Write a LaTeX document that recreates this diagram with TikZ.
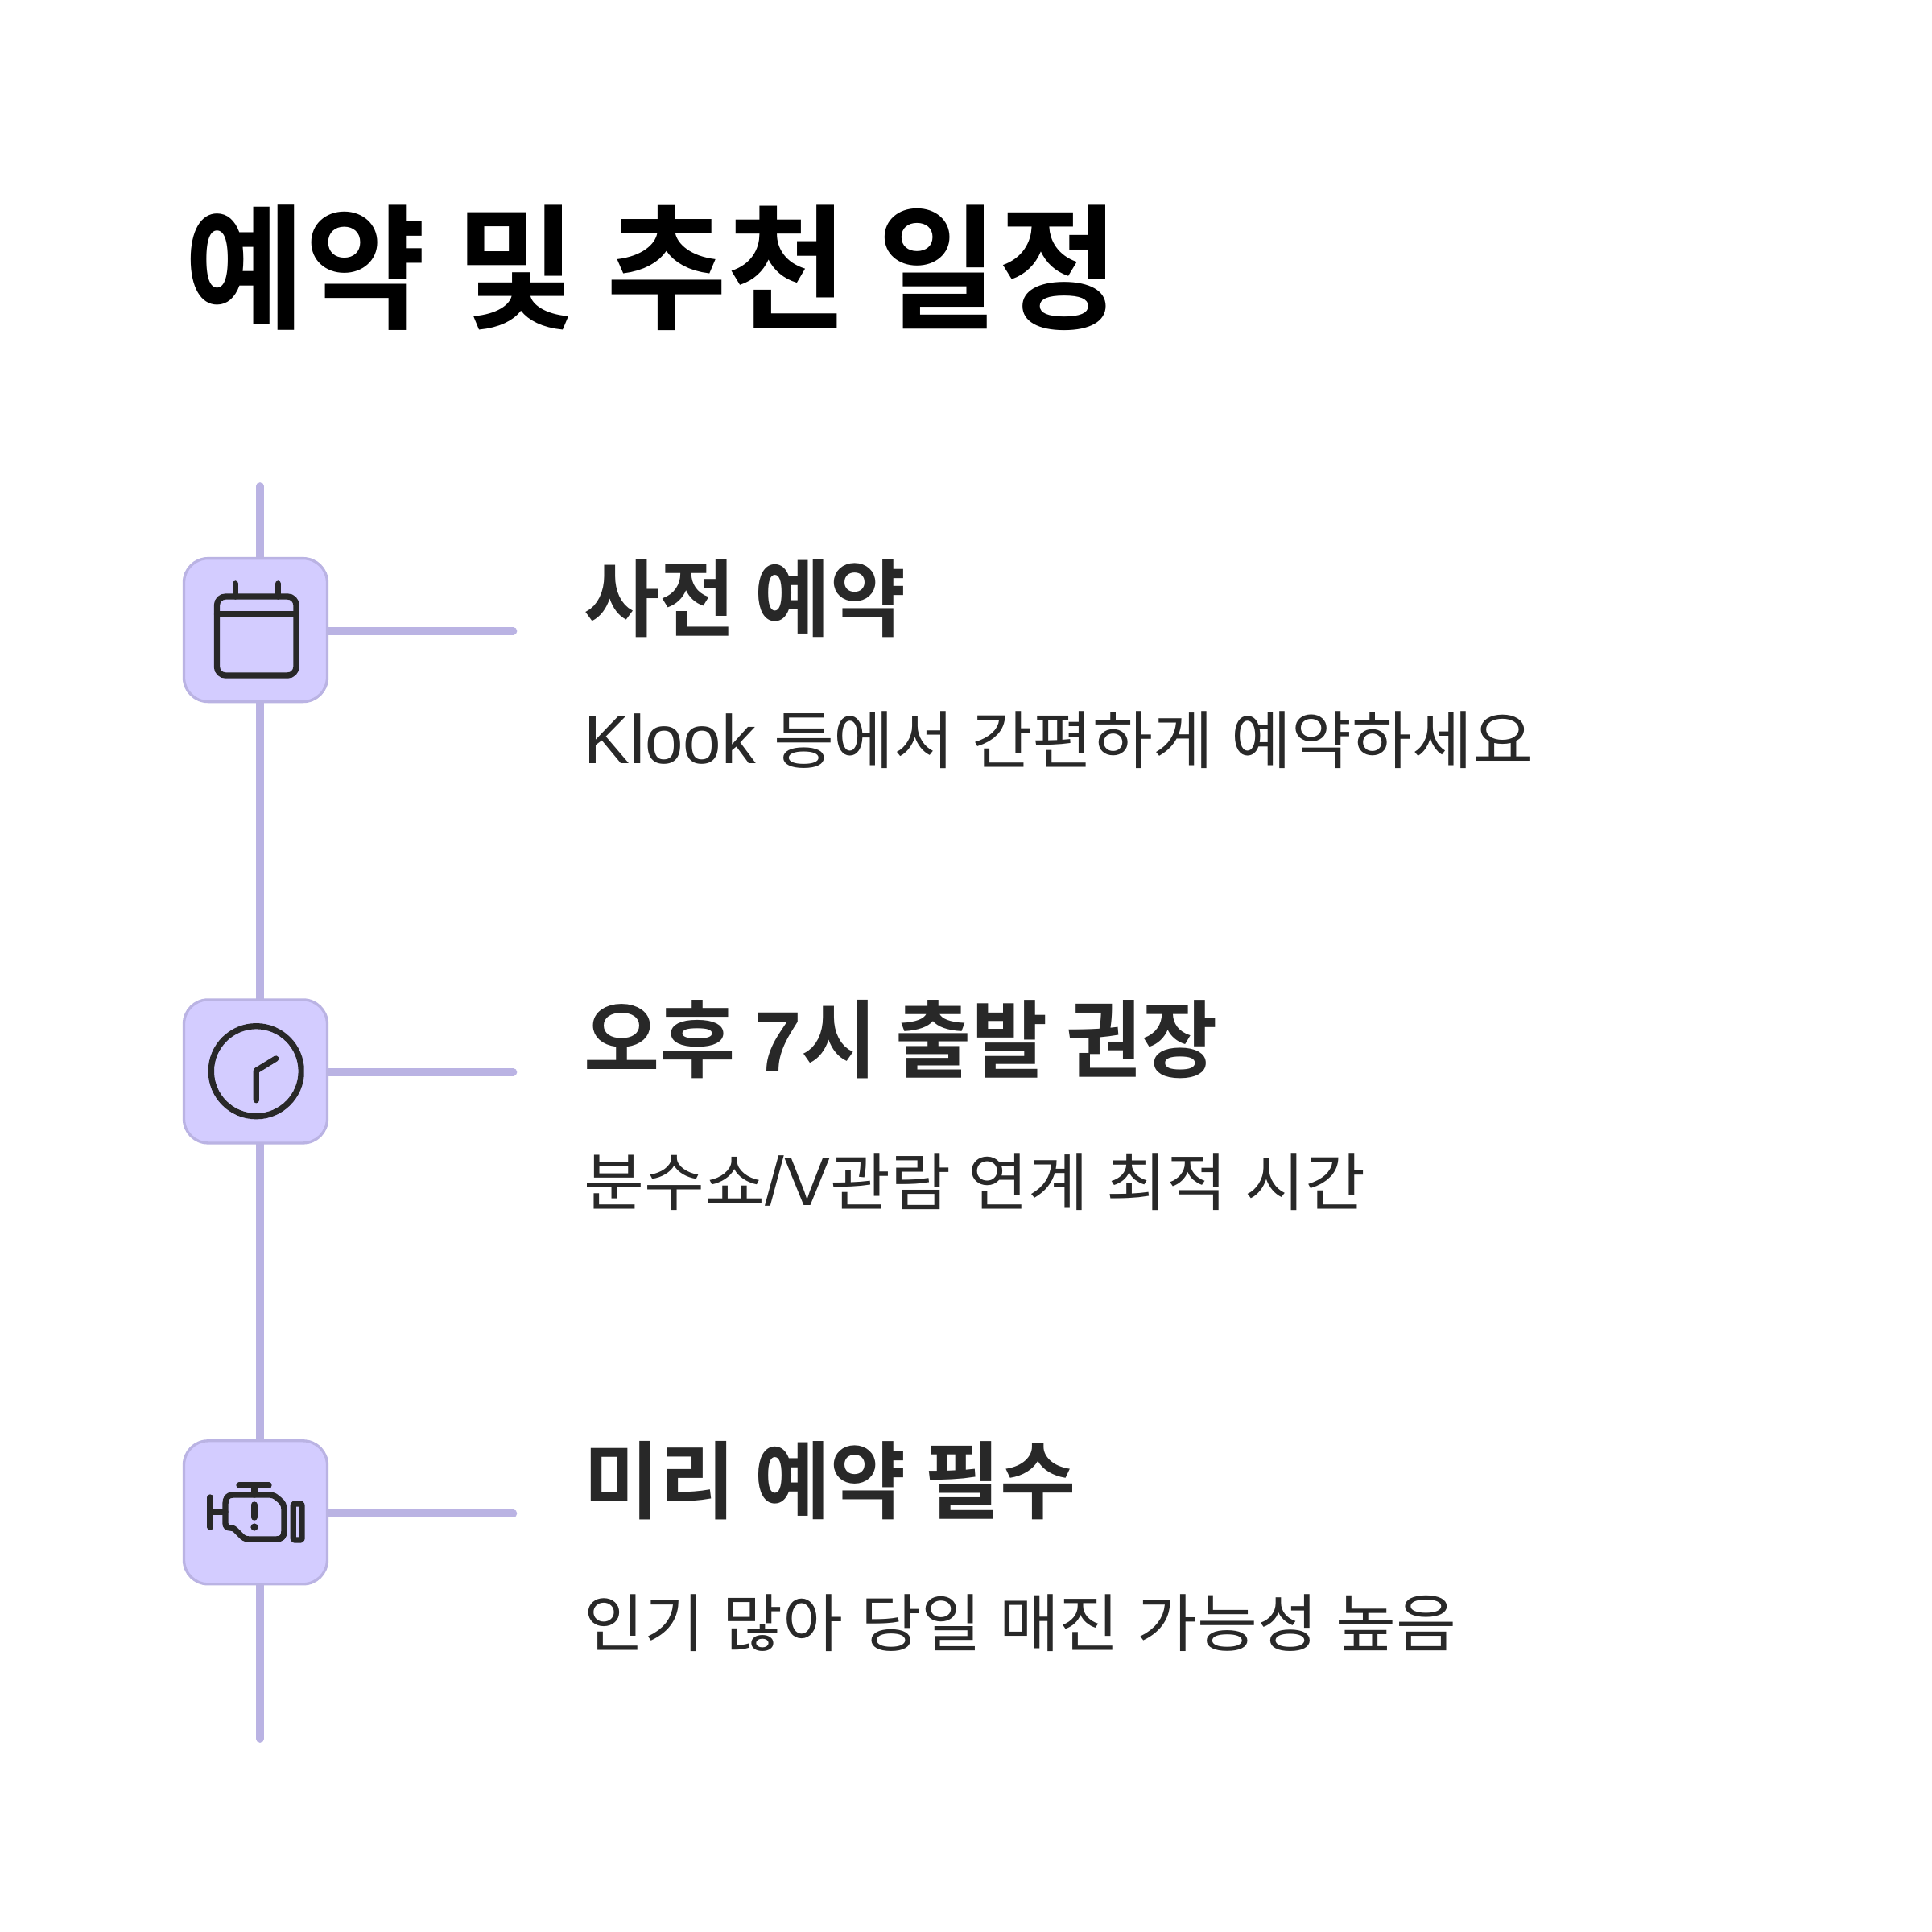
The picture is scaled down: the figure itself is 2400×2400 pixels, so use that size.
\documentclass[tikz,border=0pt]{standalone}
\usepackage{fontspec}
\usetikzlibrary{backgrounds}
\setmainfont{Liberation Sans}
\newfontfamily\krr[FakeStretch=1.04,WordSpace=1.2]{Noto Sans CJK KR}
\newfontfamily\krb[FakeStretch=0.975]{Noto Sans CJK KR Bold}
\newfontfamily\krt[FakeStretch=0.97]{Noto Sans CJK KR Bold}
\newfontfamily\lb{Liberation Sans Bold}
\definecolor{boxfill}{HTML}{D3CCFF}
\definecolor{boxline}{HTML}{BAB3E3}
\definecolor{ink}{HTML}{282828}
\newcommand{\latr}[1]{{\fontsize{25.6}{25.6}\selectfont\rmfamily #1}}
\tikzset{
  iconbox/.style={draw=boxline,fill=boxfill,line width=1pt,rounded corners=9pt,minimum size=53.4pt,inner sep=0pt,outer sep=0pt},
  rail/.style={draw=boxline,line width=2.9pt,line cap=round},
  glyph/.style={draw=ink,line width=2.2pt,line cap=round,line join=round},
  titletext/.style={anchor=base west,inner sep=0pt,font={\fontsize{50.4}{50.4}\krt},text=black},
  headtext/.style={anchor=base west,inner sep=0pt,font={\fontsize{31.5}{31.5}\krb},text=ink},
  bodytext/.style={anchor=base west,inner sep=0pt,font={\fontsize{23.5}{23.5}\krr},text=ink},
}
\begin{document}
\begin{tikzpicture}[x=0.3pt,y=-0.3pt]
\useasboundingbox (0,0) rectangle (2400,2400);
\node[titletext] (title) at (229,395) {예약 및 추천 일정};
\coordinate (railtop) at (323,604);
\coordinate (railbot) at (323,2160);
\node[iconbox] (b1) at (317.5,782.6) {};
\node[iconbox] (b2) at (317.5,1330.9) {};
\node[iconbox] (b3) at (317.5,1878.8) {};
\coordinate (e1) at (637.5,784);
\coordinate (e2) at (637.5,1332);
\coordinate (e3) at (637.5,1880);
\begin{scope}[on background layer]
\fill[white] (0,0) rectangle (2400,2400);
\draw[rail] (railtop) -- (railtop |- b1.north);
\draw[rail] (railtop |- b1.south) -- (railtop |- b2.north);
\draw[rail] (railtop |- b2.south) -- (railtop |- b3.north);
\draw[rail] (railtop |- b3.south) -- (railbot);
\draw[rail] (b1.east |- e1) -- (e1);
\draw[rail] (b2.east |- e2) -- (e2);
\draw[rail] (b3.east |- e3) -- (e3);
\end{scope}
% calendar
\draw[glyph,rounded corners=3.2pt] (269.5,741) rectangle (368,839);
\draw[glyph] (269.5,763) -- (368,763);
\draw[glyph] (292.3,725) -- (292.3,741);
\draw[glyph] (345.3,725) -- (345.3,741);
% clock
\begin{scope}
\clip (250,1260) rectangle (377.7,1400);
\draw[glyph] (318.3,1330.7) circle (56);
\end{scope}
\draw[glyph] (318.3,1366.7) -- (318.3,1330) -- (342.7,1315);
% engine
\draw[glyph] (261,1860) -- (261,1897);
\draw[glyph] (261,1878) -- (280,1878);
\draw[glyph] (297,1845) -- (334,1845);
\draw[glyph] (316,1845) -- (316,1857);
\draw[glyph] (280,1868) .. controls (280,1861) and (283,1857) .. (289,1857) -- (335,1857) .. controls (338,1857) and (340,1858) .. (342,1859) -- (347,1863) .. controls (351,1866) and (353,1870) .. (353,1875) -- (353,1902) .. controls (353,1909) and (350,1912) .. (343,1912) -- (310,1912) .. controls (304,1912) and (302,1910) .. (299,1907) -- (294,1902) .. controls (291,1899) and (290,1898) .. (286,1898) .. controls (282,1898) and (280,1896) .. (280,1892) -- cycle;
\draw[glyph,rounded corners=0.6pt] (364.3,1868) rectangle (375,1913);
\draw[glyph] (316,1869) -- (316,1885);
\fill[ink] (316,1897) circle (4.6);
% text
\node[headtext] (h1) at (725,782) {사전 예약};
\node[bodytext] (t1) at (725,948) {\latr{Klook} 등에서 간편하게 예약하세요};
\node[headtext] (h2) at (725,1330) {오후 {\lb 7}시 출발 권장};
\node[bodytext] (t2) at (725,1497) {분수쇼\latr{/V}관람 연계 최적 시간};
\node[headtext] (h3) at (725,1878) {미리 예약 필수};
\node[bodytext] (t3) at (725,2045) {인기 많아 당일 매진 가능성 높음};
\end{tikzpicture}
\end{document}
